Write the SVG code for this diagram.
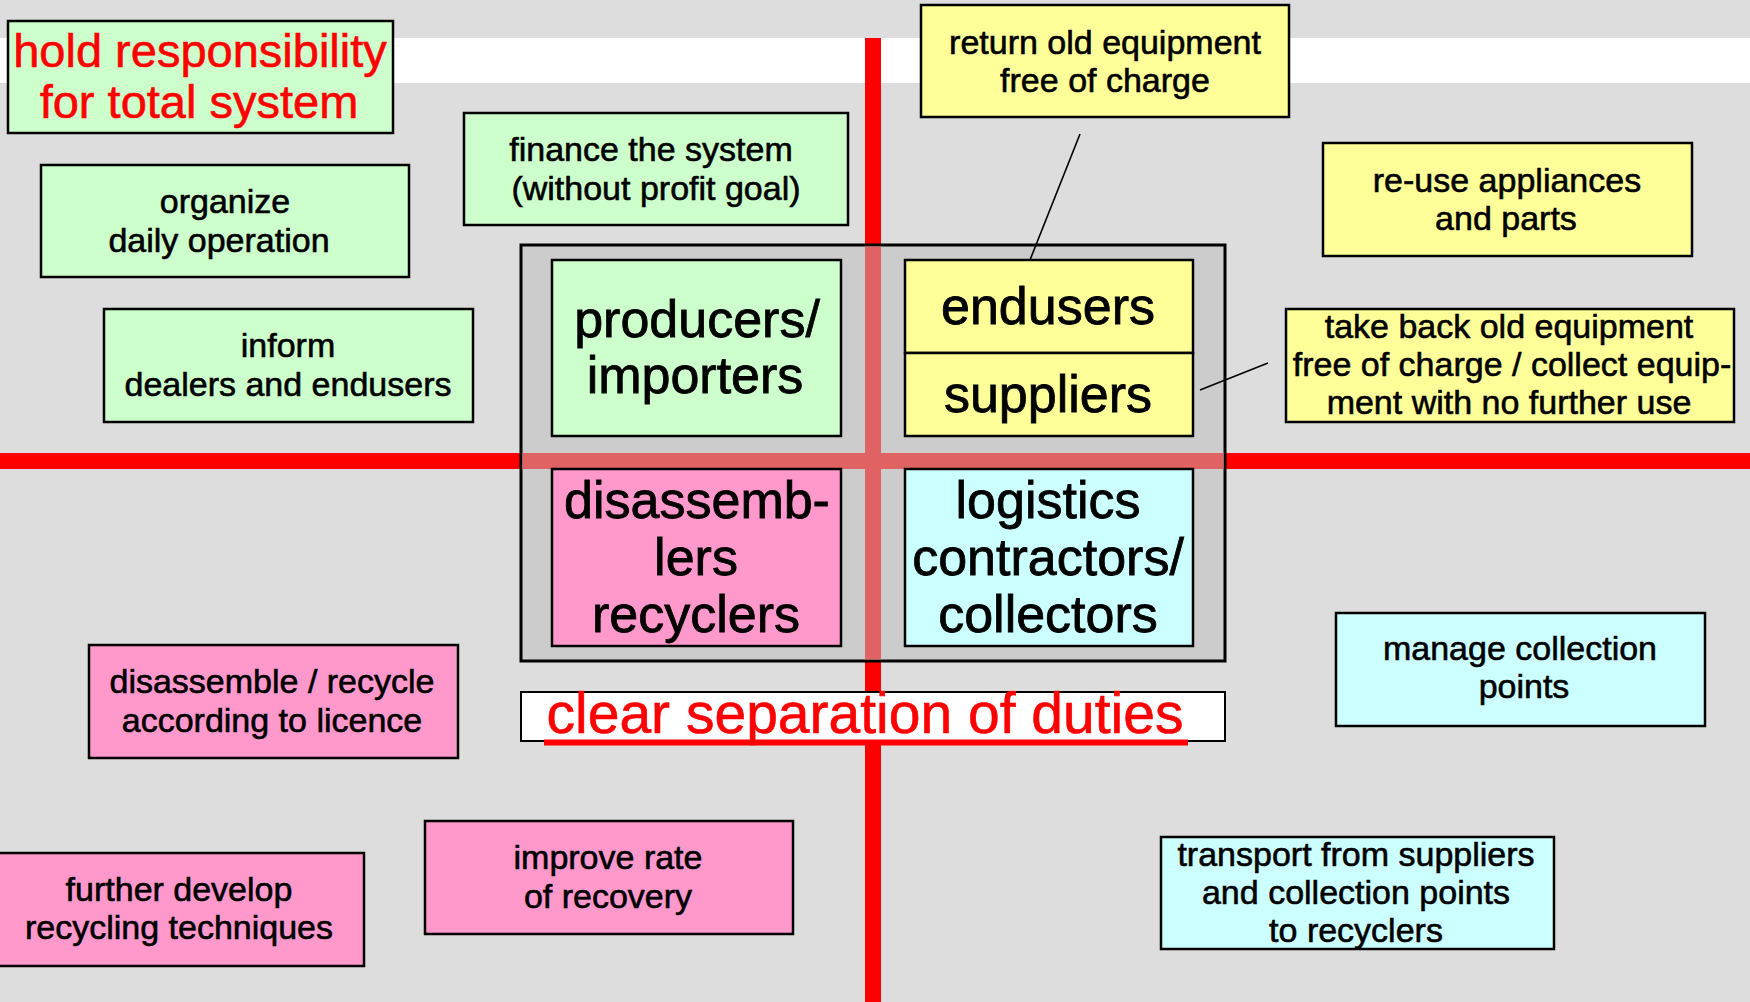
<svg xmlns="http://www.w3.org/2000/svg" width="1750" height="1002" viewBox="0 0 1750 1002">
<style>
text{font-family:"Liberation Sans",Arial,Helvetica,sans-serif;text-anchor:middle;fill:#000;stroke:#000;stroke-width:0.6}
.s{font-size:34px}
.b{font-size:52px;stroke-width:0.8}
.red{fill:#FF0000;stroke:#FF0000}
.box{stroke:#000;stroke-width:2.5}
.g{fill:#CCFFCC}.y{fill:#FFFF99}.p{fill:#FF99CC}.c{fill:#CCFFFF}
.conn{stroke:#000;stroke-width:1.6;fill:none}
</style>
<rect x="0" y="0" width="1750" height="1002" fill="#DDDDDD"/>
<rect x="0" y="38" width="1750" height="45" fill="#FFFFFF"/>
<g id="axes">
<rect x="865" y="38" width="16" height="964" fill="#FF0000"/>
<rect x="0" y="453" width="1750" height="16" fill="#FF0000"/>
</g>
<g id="container">
<rect x="521" y="245" width="704" height="416" fill="#CCCCCC" stroke="#000" stroke-width="3"/>
<rect x="865" y="246.5" width="16" height="413" fill="#E06262"/>
<rect x="522.5" y="453" width="701" height="16" fill="#E06262"/>
</g>
<g id="hold">
<rect class="box g" x="8" y="21" width="385" height="112"/>
<text class="red" x="200" y="67" style="font-size:47px">hold responsibility</text>
<text class="red" x="199" y="118" style="font-size:47px">for total system</text>
</g>
<g id="organize">
<rect class="box g" x="41" y="165" width="368" height="112"/>
<text class="s" x="225" y="213">organize</text>
<text class="s" x="219" y="252">daily operation</text>
</g>
<g id="inform">
<rect class="box g" x="104" y="309" width="369" height="113"/>
<text class="s" x="288" y="357">inform</text>
<text class="s" x="288" y="396">dealers and endusers</text>
</g>
<g id="finance">
<rect class="box g" x="464" y="113" width="384" height="112"/>
<text class="s" x="651" y="161">finance the system</text>
<text class="s" x="656" y="200">(without profit goal)</text>
</g>
<g id="producers">
<rect class="box g" x="552" y="260" width="289" height="176"/>
<text class="b" x="697" y="337">producers/</text>
<text class="b" x="695" y="393">importers</text>
</g>
<g id="endusers">
<rect class="box y" x="905" y="260" width="288" height="93"/>
<text class="b" x="1048" y="324">endusers</text>
</g>
<g id="suppliers">
<rect class="box y" x="905" y="353" width="288" height="83"/>
<text class="b" x="1048" y="412">suppliers</text>
</g>
<g id="disassemblers">
<rect class="box p" x="552" y="469" width="289" height="177"/>
<text class="b" x="697" y="518">disassemb-</text>
<text class="b" x="696" y="575">lers</text>
<text class="b" x="696" y="632">recyclers</text>
</g>
<g id="logistics">
<rect class="box c" x="905" y="469" width="288" height="177"/>
<text class="b" x="1048" y="518">logistics</text>
<text class="b" x="1048" y="575">contractors/</text>
<text class="b" x="1048" y="632">collectors</text>
</g>
<g id="return">
<rect class="box y" x="921" y="5" width="368" height="112"/>
<text class="s" x="1105" y="54">return old equipment</text>
<text class="s" x="1105" y="92">free of charge</text>
</g>
<g id="reuse">
<rect class="box y" x="1323" y="143" width="369" height="113"/>
<text class="s" x="1507" y="192">re-use appliances</text>
<text class="s" x="1506" y="230">and parts</text>
</g>
<g id="takeback">
<rect class="box y" x="1286" y="309" width="448" height="113"/>
<text class="s" x="1509" y="338">take back old equipment</text>
<text class="s" x="1512" y="376">free of charge / collect equip-</text>
<text class="s" x="1509" y="414">ment with no further use</text>
</g>
<g id="disassemble">
<rect class="box p" x="89" y="645" width="369" height="113"/>
<text class="s" x="272" y="693">disassemble / recycle</text>
<text class="s" x="272" y="732">according to licence</text>
</g>
<g id="further">
<rect class="box p" x="-6" y="853" width="370" height="113"/>
<text class="s" x="179" y="901">further develop</text>
<text class="s" x="179" y="939">recycling techniques</text>
</g>
<g id="improve">
<rect class="box p" x="425" y="821" width="368" height="113"/>
<text class="s" x="608" y="869">improve rate</text>
<text class="s" x="608" y="908">of recovery</text>
</g>
<g id="manage">
<rect class="box c" x="1336" y="613" width="369" height="113"/>
<text class="s" x="1520" y="660">manage collection</text>
<text class="s" x="1524" y="698">points</text>
</g>
<g id="transport">
<rect class="box c" x="1161" y="837" width="393" height="112"/>
<text class="s" x="1356" y="866">transport from suppliers</text>
<text class="s" x="1356" y="904">and collection points</text>
<text class="s" x="1356" y="942">to recyclers</text>
</g>
<g id="separation">
<rect x="521" y="692" width="704" height="49" fill="#FFFFFF" stroke="#000" stroke-width="2"/>
<text class="red" x="865" y="733" style="font-size:57px">clear separation of duties</text>
<rect x="544" y="739.5" width="644" height="6" fill="#FF0000"/>
</g>
<g id="connectors">
<line class="conn" x1="1080" y1="134" x2="1030" y2="260"/>
<line class="conn" x1="1268" y1="363" x2="1200" y2="390"/>
</g>
</svg>
